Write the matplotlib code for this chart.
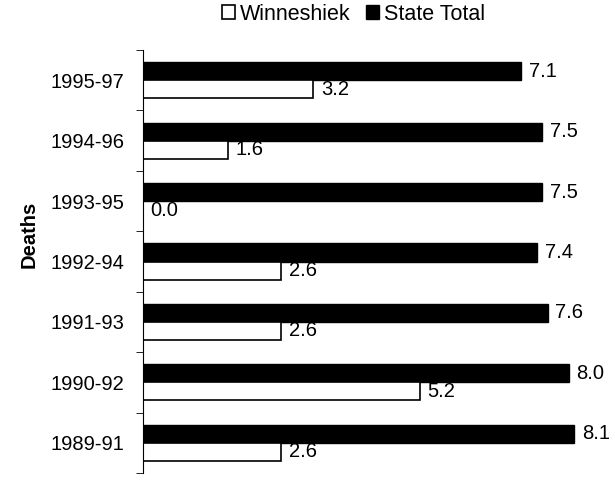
import matplotlib
matplotlib.use('Agg')
import matplotlib.pyplot as plt
import numpy as np

plt.rcParams['font.family'] = ['Liberation Sans', 'DejaVu Sans']

periods = ['1989-91', '1990-92', '1991-93', '1992-94', '1993-95', '1994-96', '1995-97']
winneshiek = [2.6, 5.2, 2.6, 2.6, 0.0, 1.6, 3.2]
state_total = [8.1, 8.0, 7.6, 7.4, 7.5, 7.5, 7.1]

fig = plt.figure(figsize=(6.15, 4.83), dpi=100)
ax = fig.add_axes([143 / 615, 1 - 473 / 483, 458 / 615, 423 / 483])

y = np.arange(len(periods))
h = 0.3
ax.barh(y + h / 2, state_total, height=h, color='black', edgecolor='black', label='State Total')
ax.barh(y - h / 2, winneshiek, height=h, color='white', edgecolor='black', linewidth=1.2, label='Winneshiek')

# value labels
for i in range(len(periods)):
    ax.text(state_total[i] + 0.14, y[i] + h / 2, f'{state_total[i]:.1f}', va='center', ha='left', fontsize=14.5, clip_on=False)
    ax.text(winneshiek[i] + 0.14, y[i] - h / 2, f'{winneshiek[i]:.1f}', va='center', ha='left', fontsize=14.5)

ax.set_xlim(0, 8.6)
ax.set_ylim(-0.5, len(periods) - 0.5)
ax.set_yticks(y)
ax.set_yticklabels(periods, fontsize=14.5)
ax.set_yticks(np.arange(-0.5, len(periods)), minor=True)
ax.tick_params(axis='y', which='major', length=0, pad=13.5)
ax.tick_params(axis='y', which='minor', length=5, direction='out')
ax.set_xticks([])
for s in ['top', 'right', 'bottom']:
    ax.spines[s].set_visible(False)
ax.spines['left'].set_linewidth(0.8)
ax.set_ylabel('Deaths', fontsize=14.5, fontweight='bold')
ax.yaxis.set_label_coords(-0.228, (473 - 234) / 423)

handles, labels = ax.get_legend_handles_labels()
fig.legend(handles[::-1], labels[::-1], loc='center', bbox_to_anchor=(353.5 / 615, 1 - 14 / 483),
           ncol=2, frameon=False, fontsize=15.5, handlelength=0.6, handleheight=0.6,
           handletextpad=0.2, columnspacing=0.75, borderpad=0)

fig.savefig('out.png', dpi=100)
